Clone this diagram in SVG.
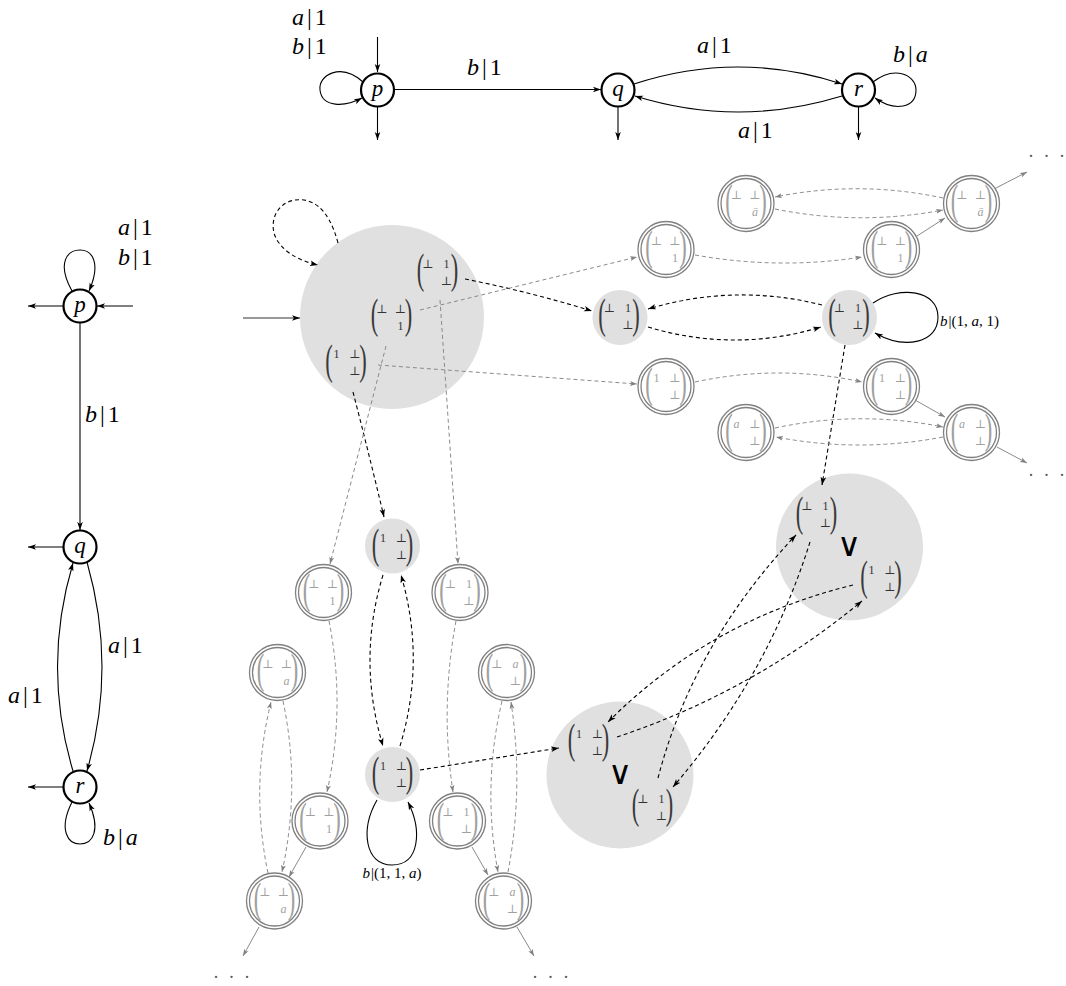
<svg xmlns="http://www.w3.org/2000/svg" width="1066" height="986" viewBox="0 0 1066 986">
<defs>
<style>
.bn{fill:#fff;stroke:#000;stroke-width:2.2}
.st{font-family:"Liberation Serif","DejaVu Serif",serif;font-size:23px;font-style:italic;text-anchor:middle;fill:#000}
.lb{font-family:"Liberation Serif","DejaVu Serif",serif;font-size:24px;fill:#000}
.sl{font-family:"Liberation Serif","DejaVu Serif",serif;font-size:15px;fill:#000}
.it{font-style:italic}
.e{fill:none;stroke:#000;stroke-width:1.1;marker-end:url(#ah)}
.ed{fill:none;stroke:#000;stroke-width:1.1;stroke-dasharray:4 3;marker-end:url(#ah)}
.gd{fill:none;stroke:#8a8a8a;stroke-width:1;stroke-dasharray:4 3;marker-end:url(#ag)}
.gs{fill:none;stroke:#8a8a8a;stroke-width:1;marker-end:url(#ag)}
.fc{fill:#e0e0e0}
.gn{fill:#fff;stroke:#808080;stroke-width:1.3}
.pl{font-family:"Liberation Serif","DejaVu Serif",serif;font-size:30px;text-anchor:middle;fill:#3a3a3a}
.en{font-family:"Liberation Serif","DejaVu Serif",serif;font-size:12px;text-anchor:middle;fill:#333}
.g .pl,.g .en{fill:#a0a0a0}
.vee{font-family:"DejaVu Sans",sans-serif;font-size:33px;text-anchor:middle;fill:#000}
.dots{font-family:"Liberation Serif",serif;font-size:18px;fill:#555;letter-spacing:2.5px}
</style>
<marker id="ah" viewBox="0 0 10 8" refX="10" refY="4" markerWidth="8" markerHeight="6.4" orient="auto" markerUnits="userSpaceOnUse"><path d="M0,0.5 L10,4 L0,7.5 L2.5,4z" fill="#000"/></marker>
<marker id="ag" viewBox="0 0 10 8" refX="10" refY="4" markerWidth="7" markerHeight="5.6" orient="auto" markerUnits="userSpaceOnUse"><path d="M0,0.5 L10,4 L0,7.5 L2.5,4z" fill="#808080"/></marker>
</defs>
<rect width="1066" height="986" fill="#fff"/>

<!-- top automaton -->
<g id="top-p"><circle cx="377.5" cy="90" r="16.5" class="bn"/><text class="st" x="377.5" y="96">p</text></g>
<g id="top-q"><circle cx="618" cy="90" r="16.5" class="bn"/><text class="st" x="618" y="96">q</text></g>
<g id="top-r"><circle cx="858.5" cy="90" r="16.5" class="bn"/><text class="st" x="858.5" y="96">r</text></g>

<!-- left automaton -->
<g id="left-p"><circle cx="80" cy="306" r="16.5" class="bn"/><text class="st" x="80" y="312">p</text></g>
<g id="left-q"><circle cx="80" cy="547" r="16.5" class="bn"/><text class="st" x="80" y="553">q</text></g>
<g id="left-r"><circle cx="80" cy="787" r="16.5" class="bn"/><text class="st" x="80" y="793">r</text></g>

<!-- big circle 1 -->
<g id="S0">
<circle cx="392" cy="317" r="92" class="fc"/>
<g transform="translate(437.5,272.5)"><text class="pl" transform="translate(-17,10.5) scale(0.75,1.4)">(</text><text class="pl" transform="translate(17,10.5) scale(0.75,1.4)">)</text><text class="en" x="-9.5" y="-5">⊥</text><text class="en" x="9" y="-5">1</text><text class="en" x="9" y="12">⊥</text></g>
<g transform="translate(391.5,317.5)"><text class="pl" transform="translate(-17,10.5) scale(0.75,1.4)">(</text><text class="pl" transform="translate(17,10.5) scale(0.75,1.4)">)</text><text class="en" x="-9.5" y="-5">⊥</text><text class="en" x="9" y="-5">⊥</text><text class="en" x="9" y="12">1</text></g>
<g transform="translate(346,363)"><text class="pl" transform="translate(-17,10.5) scale(0.75,1.4)">(</text><text class="pl" transform="translate(17,10.5) scale(0.75,1.4)">)</text><text class="en" x="-9.5" y="-5">1</text><text class="en" x="9" y="-5">⊥</text><text class="en" x="9" y="12">⊥</text></g>
</g>

<!-- small filled nodes -->
<g id="A"><circle cx="620" cy="317.5" r="27.5" class="fc"/><g transform="translate(619,317)"><text class="pl" transform="translate(-17,10.5) scale(0.75,1.4)">(</text><text class="pl" transform="translate(17,10.5) scale(0.75,1.4)">)</text><text class="en" x="-9.5" y="-5">⊥</text><text class="en" x="9" y="-5">1</text><text class="en" x="9" y="12">⊥</text></g></g>
<g id="B"><circle cx="849.5" cy="317.5" r="27.5" class="fc"/><g transform="translate(849,317)"><text class="pl" transform="translate(-17,10.5) scale(0.75,1.4)">(</text><text class="pl" transform="translate(17,10.5) scale(0.75,1.4)">)</text><text class="en" x="-9.5" y="-5">⊥</text><text class="en" x="9" y="-5">1</text><text class="en" x="9" y="12">⊥</text></g></g>
<g id="K"><circle cx="392.5" cy="546" r="27.5" class="fc"/><g transform="translate(392.5,547)"><text class="pl" transform="translate(-17,10.5) scale(0.75,1.4)">(</text><text class="pl" transform="translate(17,10.5) scale(0.75,1.4)">)</text><text class="en" x="-9.5" y="-5">1</text><text class="en" x="9" y="-5">⊥</text><text class="en" x="9" y="12">⊥</text></g></g>
<g id="L"><circle cx="392.5" cy="774.5" r="27.5" class="fc"/><g transform="translate(392.5,775)"><text class="pl" transform="translate(-17,10.5) scale(0.75,1.4)">(</text><text class="pl" transform="translate(17,10.5) scale(0.75,1.4)">)</text><text class="en" x="-9.5" y="-5">1</text><text class="en" x="9" y="-5">⊥</text><text class="en" x="9" y="12">⊥</text></g></g>

<!-- big circle 2 -->
<g id="S2">
<circle cx="849.5" cy="547" r="73.5" class="fc"/>
<g transform="translate(816.5,515)"><text class="pl" transform="translate(-17,10.5) scale(0.75,1.4)">(</text><text class="pl" transform="translate(17,10.5) scale(0.75,1.4)">)</text><text class="en" x="-9.5" y="-5">⊥</text><text class="en" x="9" y="-5">1</text><text class="en" x="9" y="12">⊥</text></g>
<text class="vee" x="849" y="556">∨</text>
<g transform="translate(881,579)"><text class="pl" transform="translate(-17,10.5) scale(0.75,1.4)">(</text><text class="pl" transform="translate(17,10.5) scale(0.75,1.4)">)</text><text class="en" x="-9.5" y="-5">1</text><text class="en" x="9" y="-5">⊥</text><text class="en" x="9" y="12">⊥</text></g>
</g>

<!-- big circle 3 -->
<g id="S3">
<circle cx="620" cy="775" r="73.5" class="fc"/>
<g transform="translate(588.5,742.5)"><text class="pl" transform="translate(-17,10.5) scale(0.75,1.4)">(</text><text class="pl" transform="translate(17,10.5) scale(0.75,1.4)">)</text><text class="en" x="-9.5" y="-5">1</text><text class="en" x="9" y="-5">⊥</text><text class="en" x="9" y="12">⊥</text></g>
<text class="vee" x="620" y="784">∨</text>
<g transform="translate(652.5,807.5)"><text class="pl" transform="translate(-17,10.5) scale(0.75,1.4)">(</text><text class="pl" transform="translate(17,10.5) scale(0.75,1.4)">)</text><text class="en" x="-9.5" y="-5">⊥</text><text class="en" x="9" y="-5">1</text><text class="en" x="9" y="12">⊥</text></g>
</g>

<!-- gray double-circle nodes -->
<g id="C" class="g"><circle cx="666" cy="249.5" r="28" class="gn"/><circle cx="666" cy="249.5" r="25" class="gn"/><g transform="translate(666,249.5)"><text class="pl" transform="translate(-17,10.5) scale(0.75,1.4)">(</text><text class="pl" transform="translate(17,10.5) scale(0.75,1.4)">)</text><text class="en" x="-9.5" y="-5">⊥</text><text class="en" x="9" y="-5">⊥</text><text class="en" x="9" y="12">1</text></g></g>
<g id="D" class="g"><circle cx="891.5" cy="249.5" r="28" class="gn"/><circle cx="891.5" cy="249.5" r="25" class="gn"/><g transform="translate(891.5,249.5)"><text class="pl" transform="translate(-17,10.5) scale(0.75,1.4)">(</text><text class="pl" transform="translate(17,10.5) scale(0.75,1.4)">)</text><text class="en" x="-9.5" y="-5">⊥</text><text class="en" x="9" y="-5">⊥</text><text class="en" x="9" y="12">1</text></g></g>
<g id="F" class="g"><circle cx="746" cy="203.5" r="28" class="gn"/><circle cx="746" cy="203.5" r="25" class="gn"/><g transform="translate(746,203.5)"><text class="pl" transform="translate(-17,10.5) scale(0.75,1.4)">(</text><text class="pl" transform="translate(17,10.5) scale(0.75,1.4)">)</text><text class="en" x="-9.5" y="-5">⊥</text><text class="en" x="9" y="-5">⊥</text><text class="en it" x="9" y="12">ā</text></g></g>
<g id="E" class="g"><circle cx="971.5" cy="203.5" r="28" class="gn"/><circle cx="971.5" cy="203.5" r="25" class="gn"/><g transform="translate(971.5,203.5)"><text class="pl" transform="translate(-17,10.5) scale(0.75,1.4)">(</text><text class="pl" transform="translate(17,10.5) scale(0.75,1.4)">)</text><text class="en" x="-9.5" y="-5">⊥</text><text class="en" x="9" y="-5">⊥</text><text class="en it" x="9" y="12">ā</text></g></g>
<g id="G" class="g"><circle cx="666" cy="386.5" r="28" class="gn"/><circle cx="666" cy="386.5" r="25" class="gn"/><g transform="translate(666,386.5)"><text class="pl" transform="translate(-17,10.5) scale(0.75,1.4)">(</text><text class="pl" transform="translate(17,10.5) scale(0.75,1.4)">)</text><text class="en" x="-9.5" y="-5">1</text><text class="en" x="9" y="-5">⊥</text><text class="en" x="9" y="12">⊥</text></g></g>
<g id="H" class="g"><circle cx="891.5" cy="386.5" r="28" class="gn"/><circle cx="891.5" cy="386.5" r="25" class="gn"/><g transform="translate(891.5,386.5)"><text class="pl" transform="translate(-17,10.5) scale(0.75,1.4)">(</text><text class="pl" transform="translate(17,10.5) scale(0.75,1.4)">)</text><text class="en" x="-9.5" y="-5">1</text><text class="en" x="9" y="-5">⊥</text><text class="en" x="9" y="12">⊥</text></g></g>
<g id="I" class="g"><circle cx="746" cy="432.5" r="28" class="gn"/><circle cx="746" cy="432.5" r="25" class="gn"/><g transform="translate(746,432.5)"><text class="pl" transform="translate(-17,10.5) scale(0.75,1.4)">(</text><text class="pl" transform="translate(17,10.5) scale(0.75,1.4)">)</text><text class="en it" x="-9.5" y="-5">a</text><text class="en" x="9" y="-5">⊥</text><text class="en" x="9" y="12">⊥</text></g></g>
<g id="J" class="g"><circle cx="971.5" cy="432.5" r="28" class="gn"/><circle cx="971.5" cy="432.5" r="25" class="gn"/><g transform="translate(971.5,432.5)"><text class="pl" transform="translate(-17,10.5) scale(0.75,1.4)">(</text><text class="pl" transform="translate(17,10.5) scale(0.75,1.4)">)</text><text class="en it" x="-9.5" y="-5">a</text><text class="en" x="9" y="-5">⊥</text><text class="en" x="9" y="12">⊥</text></g></g>
<g id="N1" class="g"><circle cx="323.5" cy="592.5" r="28" class="gn"/><circle cx="323.5" cy="592.5" r="25" class="gn"/><g transform="translate(323.5,592.5)"><text class="pl" transform="translate(-17,10.5) scale(0.75,1.4)">(</text><text class="pl" transform="translate(17,10.5) scale(0.75,1.4)">)</text><text class="en" x="-9.5" y="-5">⊥</text><text class="en" x="9" y="-5">⊥</text><text class="en" x="9" y="12">1</text></g></g>
<g id="N5" class="g"><circle cx="460" cy="592.5" r="28" class="gn"/><circle cx="460" cy="592.5" r="25" class="gn"/><g transform="translate(460,592.5)"><text class="pl" transform="translate(-17,10.5) scale(0.75,1.4)">(</text><text class="pl" transform="translate(17,10.5) scale(0.75,1.4)">)</text><text class="en" x="-9.5" y="-5">⊥</text><text class="en" x="9" y="-5">1</text><text class="en" x="9" y="12">⊥</text></g></g>
<g id="N2" class="g"><circle cx="277.5" cy="672.5" r="28" class="gn"/><circle cx="277.5" cy="672.5" r="25" class="gn"/><g transform="translate(277.5,672.5)"><text class="pl" transform="translate(-17,10.5) scale(0.75,1.4)">(</text><text class="pl" transform="translate(17,10.5) scale(0.75,1.4)">)</text><text class="en" x="-9.5" y="-5">⊥</text><text class="en" x="9" y="-5">⊥</text><text class="en it" x="9" y="12">a</text></g></g>
<g id="N6" class="g"><circle cx="506.5" cy="672.5" r="28" class="gn"/><circle cx="506.5" cy="672.5" r="25" class="gn"/><g transform="translate(506.5,672.5)"><text class="pl" transform="translate(-17,10.5) scale(0.75,1.4)">(</text><text class="pl" transform="translate(17,10.5) scale(0.75,1.4)">)</text><text class="en" x="-9.5" y="-5">⊥</text><text class="en it" x="9" y="-5">a</text><text class="en" x="9" y="12">⊥</text></g></g>
<g id="N3" class="g"><circle cx="320" cy="821" r="28" class="gn"/><circle cx="320" cy="821" r="25" class="gn"/><g transform="translate(320,821)"><text class="pl" transform="translate(-17,10.5) scale(0.75,1.4)">(</text><text class="pl" transform="translate(17,10.5) scale(0.75,1.4)">)</text><text class="en" x="-9.5" y="-5">⊥</text><text class="en" x="9" y="-5">⊥</text><text class="en" x="9" y="12">1</text></g></g>
<g id="N7" class="g"><circle cx="457.5" cy="821" r="28" class="gn"/><circle cx="457.5" cy="821" r="25" class="gn"/><g transform="translate(457.5,821)"><text class="pl" transform="translate(-17,10.5) scale(0.75,1.4)">(</text><text class="pl" transform="translate(17,10.5) scale(0.75,1.4)">)</text><text class="en" x="-9.5" y="-5">⊥</text><text class="en" x="9" y="-5">1</text><text class="en" x="9" y="12">⊥</text></g></g>
<g id="N4" class="g"><circle cx="274.5" cy="901" r="28" class="gn"/><circle cx="274.5" cy="901" r="25" class="gn"/><g transform="translate(274.5,901)"><text class="pl" transform="translate(-17,10.5) scale(0.75,1.4)">(</text><text class="pl" transform="translate(17,10.5) scale(0.75,1.4)">)</text><text class="en" x="-9.5" y="-5">⊥</text><text class="en" x="9" y="-5">⊥</text><text class="en it" x="9" y="12">a</text></g></g>
<g id="N8" class="g"><circle cx="503.5" cy="901" r="28" class="gn"/><circle cx="503.5" cy="901" r="25" class="gn"/><g transform="translate(503.5,901)"><text class="pl" transform="translate(-17,10.5) scale(0.75,1.4)">(</text><text class="pl" transform="translate(17,10.5) scale(0.75,1.4)">)</text><text class="en" x="-9.5" y="-5">⊥</text><text class="en it" x="9" y="-5">a</text><text class="en" x="9" y="12">⊥</text></g></g>

<!-- connectors -->
<g id="connectors">
<path class="e" d="M377.5,37 L377.5,72"/>
<path class="e" d="M377.5,107 L377.5,140"/>
<path class="e" d="M618,107 L618,140"/>
<path class="e" d="M858.5,107 L858.5,140"/>
<path class="e" d="M363,82 C341,62 318,75 320,90 C322,108 345,107 362,98"/>
<path class="e" d="M394,89.5 L601,89.5"/>
<path class="e" d="M634,84 Q738,50 842,84"/>
<path class="e" d="M842,96 Q738,128 635,96"/>
<path class="e" d="M873,82 C895,65 916,75 916,90 C916,108 895,112 875,98"/>
<path class="e" d="M72,291 C56,262 68,250 80,250 C93,250 101,264 89,291"/>
<path class="e" d="M133,306 L97,306"/>
<path class="e" d="M63,306 L28,306"/>
<path class="e" d="M80,323 L80,530"/>
<path class="e" d="M63,547 L28,547"/>
<path class="e" d="M63,787 L28,787"/>
<path class="e" d="M87,562 Q117,667 87,771"/>
<path class="e" d="M73,771 Q42,667 73,563"/>
<path class="e" d="M72,802 C58,830 68,844 80,844 C93,844 101,830 89,803"/>
<path class="e" style="stroke:#333" d="M243,318 L300,318"/>
<path class="ed" d="M338,243 C328,205 310,198 295,200 C275,203 268,225 277,240 C287,256 305,262 318,265"/>
<path class="ed" d="M465,279 Q530,292 592,311"/>
<path class="ed" d="M822,305 Q735,283 648,309"/>
<path class="ed" d="M648,327 Q735,353 821,327"/>
<path class="e" d="M873,303 C900,285 938,290 938,317 C938,343 905,350 875,333"/>
<path class="ed" d="M845,345 L822,485"/>
<path class="ed" d="M353,392 Q368,450 384,517"/>
<path class="ed" d="M383,575 Q357,660 383,746"/>
<path class="ed" d="M400,746 Q426,660 401,575"/>
<path class="e" d="M377,800 C360,830 365,865 392,865 C420,865 422,830 408,802"/>
<path class="ed" d="M420,770 L559,748"/>
<path class="ed" d="M617,737 Q752,692 862,601"/>
<path class="ed" d="M853,585 Q710,620 608,722"/>
<path class="ed" d="M658,778 Q693,644 796,535"/>
<path class="ed" d="M810,542 Q768,676 673,787"/>
<path class="gd" d="M420,310 L637,257"/>
<path class="gd" d="M695,255 Q779,270 862,257"/>
<path class="gs" d="M917,236 L945,218"/>
<path class="gd" d="M943,198 Q859,180 775,197"/>
<path class="gd" d="M775,209 Q859,226 943,210"/>
<path class="gs" d="M996,188 L1027,172"/>
<path class="gd" d="M378,365 L637,384"/>
<path class="gd" d="M695,382 Q779,364 862,382"/>
<path class="gs" d="M915,400 L945,417"/>
<path class="gd" d="M775,428 Q859,410 943,427"/>
<path class="gd" d="M943,437 Q859,453 776,437"/>
<path class="gs" d="M997,447 L1027,463"/>
<path class="gd" d="M386,346 L330,564"/>
<path class="gd" d="M440,300 L458,564"/>
<path class="gd" d="M329,621 Q346,707 327,792"/>
<path class="gd" d="M456,621 Q440,707 453,792"/>
<path class="gd" d="M283,701 Q301,786 282,872"/>
<path class="gd" d="M268,873 Q250,787 271,702"/>
<path class="gd" d="M502,701 Q482,786 498,872"/>
<path class="gd" d="M508,872 Q524,787 511,702"/>
<path class="gs" d="M306,847 L289,877"/>
<path class="gs" d="M472,847 L488,875"/>
<path class="gs" d="M259,927 L243,956"/>
<path class="gs" d="M517,927 L534,956"/>
</g>

<!-- labels -->
<g id="labels">
<text class="lb" x="292" y="25"><tspan class="it">a</tspan><tspan dx="3">|</tspan><tspan dx="3">1</tspan></text>
<text class="lb" x="292" y="54"><tspan class="it">b</tspan><tspan dx="3">|</tspan><tspan dx="3">1</tspan></text>
<text class="lb" x="467" y="75"><tspan class="it">b</tspan><tspan dx="3">|</tspan><tspan dx="3">1</tspan></text>
<text class="lb" x="697" y="53"><tspan class="it">a</tspan><tspan dx="3">|</tspan><tspan dx="3">1</tspan></text>
<text class="lb" x="738" y="138"><tspan class="it">a</tspan><tspan dx="3">|</tspan><tspan dx="3">1</tspan></text>
<text class="lb" x="893" y="62"><tspan class="it">b</tspan><tspan dx="3">|</tspan><tspan dx="3" class="it">a</tspan></text>
<text class="lb" x="118" y="235"><tspan class="it">a</tspan><tspan dx="3">|</tspan><tspan dx="3">1</tspan></text>
<text class="lb" x="118" y="265"><tspan class="it">b</tspan><tspan dx="3">|</tspan><tspan dx="3">1</tspan></text>
<text class="lb" x="85" y="422"><tspan class="it">b</tspan><tspan dx="3">|</tspan><tspan dx="3">1</tspan></text>
<text class="lb" x="108" y="653"><tspan class="it">a</tspan><tspan dx="3">|</tspan><tspan dx="3">1</tspan></text>
<text class="lb" x="8" y="703"><tspan class="it">a</tspan><tspan dx="3">|</tspan><tspan dx="3">1</tspan></text>
<text class="lb" x="103" y="845"><tspan class="it">b</tspan><tspan dx="3">|</tspan><tspan dx="3" class="it">a</tspan></text>
<text class="sl" x="940" y="326"><tspan class="it">b</tspan><tspan dx="1">|(1, </tspan><tspan class="it">a</tspan><tspan>, 1)</tspan></text>
<text class="sl" x="392" y="878" text-anchor="middle"><tspan class="it">b</tspan><tspan dx="1">|(1, 1, </tspan><tspan class="it">a</tspan><tspan>)</tspan></text>
<text class="dots" x="1028" y="162">· · ·</text>
<text class="dots" x="1028" y="481">· · ·</text>
<text class="dots" x="213" y="983">· · ·</text>
<text class="dots" x="532" y="983">· · ·</text>
</g>
</svg>
